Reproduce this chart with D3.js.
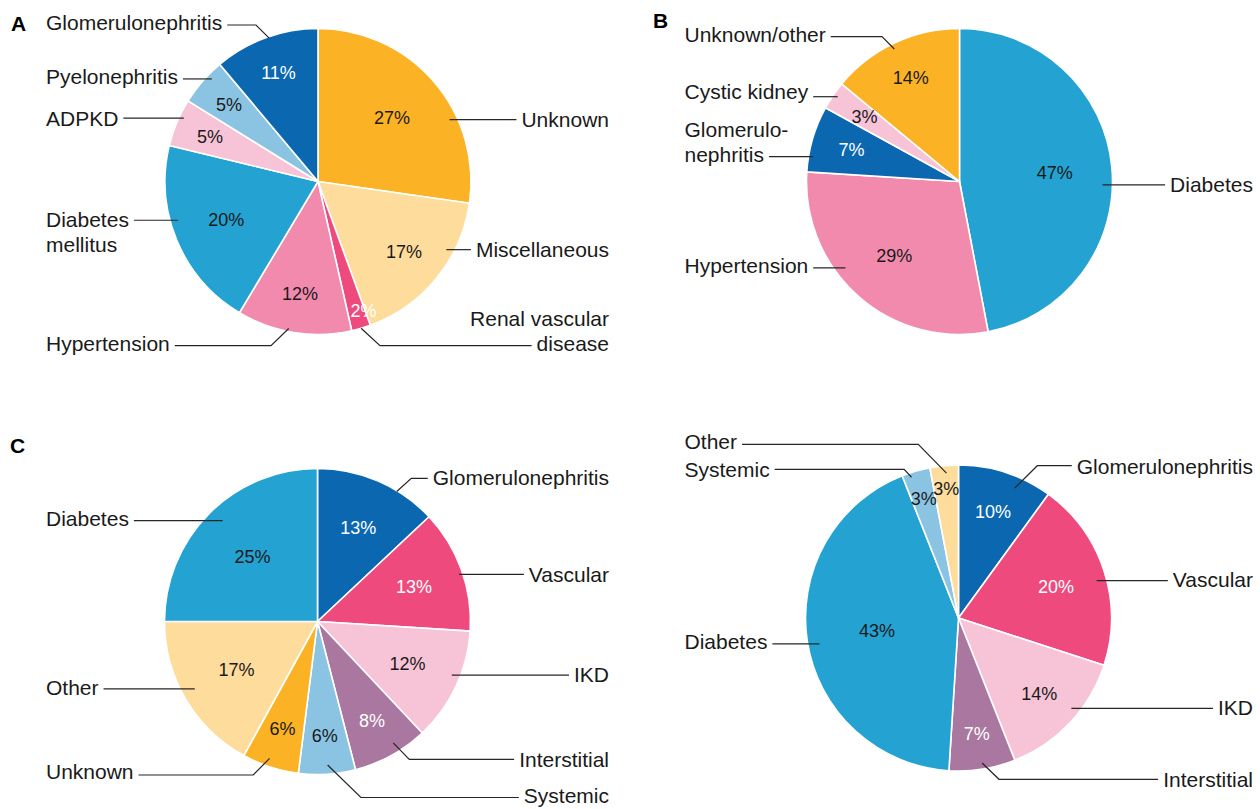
<!DOCTYPE html>
<html>
<head>
<meta charset="utf-8">
<script src="https://cdn.jsdelivr.net/npm/d3@7"></script>
<style>
  body { margin: 0; background: #fff; }
  svg { display: block; }
  text { font-family: "Liberation Sans", Arial, Helvetica, sans-serif; }
</style>
</head>
<body>
<svg id="chart" width="1260" height="809"></svg>
<script>
// ---- Causes of kidney failure, four cohorts (shares in %) ----
// "\n" marks where a label wraps onto a second line.
const catsA = ["Unknown", "Miscellaneous", "Renal vascular\ndisease", "Hypertension",
               "Diabetes\nmellitus", "ADPKD", "Pyelonephritis", "Glomerulonephritis"];
const valsA = [27, 17, 2, 12, 20, 5, 5, 11];

const catsB = ["Diabetes", "Hypertension", "Glomerulo-\nnephritis", "Cystic kidney", "Unknown/other"];
const valsB = [47, 29, 7, 3, 14];

const catsC = ["Glomerulonephritis", "Vascular", "IKD", "Interstitial", "Systemic",
               "Unknown", "Other", "Diabetes"];
const valsC = [13, 13, 12, 8, 6, 6, 17, 25];

const catsD = ["Glomerulonephritis", "Vascular", "IKD", "Interstitial", "Diabetes",
               "Systemic", "Other"];
const valsD = [10, 20, 14, 7, 43, 3, 3];

// ---- colours ----
const C = {
  navy:   "#0a67b0",
  blue:   "#24a2d1",
  sky:    "#8bc4e2",
  orange: "#fbb325",
  peach:  "#fddc9c",
  pink:   "#f18aad",
  rose:   "#ef4a7e",
  blush:  "#f7c3d6",
  mauve:  "#a9779f"
};
const INK = "#1a1a1a", WHITE = "#ffffff";

const fillA = [C.orange, C.peach, C.rose, C.pink, C.blue, C.blush, C.sky, C.navy];
const inkA  = [INK, INK, WHITE, INK, INK, INK, INK, WHITE];
const fillB = [C.blue, C.pink, C.navy, C.blush, C.orange];
const inkB  = [INK, INK, WHITE, INK, INK];
const fillC = [C.navy, C.rose, C.blush, C.mauve, C.sky, C.orange, C.peach, C.blue];
const inkC  = [WHITE, WHITE, INK, WHITE, INK, INK, INK, INK];
const fillD = [C.navy, C.rose, C.blush, C.mauve, C.blue, C.sky, C.peach];
const inkD  = [WHITE, WHITE, INK, WHITE, INK, INK, INK];

// ---- label layout ----
// t: where along the slice the leader starts (0..1), k: radius fraction of that start,
// side: label column, ex/ly: optional elbow (px from pie centre), at: wrapped line the
// leader attaches to, tdy: nudge of the text relative to the leader,
// pt: where along the slice the percentage sits (default: middle).
const layoutA = [
  {t: .66, k: .95,  side: "R"},
  {t: .32, k: .95,  side: "R"},
  {t: .50, k: 1.0,  side: "R", ex: 62, ly: 164.2, at: 1, tdy: -2.5, pt: .08},
  {t: .55, k: .98,  side: "L", ex: -47, ly: 164.2, tdy: -2.5},
  {t: .60, k: .95,  side: "L", at: 0, tdy: -1},
  {t: .64, k: .97,  side: "L"},
  {t: .67, k: .965, side: "L", tdy: -2},
  {t: .53, k: .99,  side: "L", ex: -62, ly: -156.5, tdy: -2}
];
const pctRA = [.64, .725, .895, .74, .65, .765, .77, .755];

const layoutB = [
  {t: .54, k: .935, side: "R"},
  {t: .61, k: .935, side: "L", tdy: -2},
  {t: .24, k: .97,  side: "L", at: 1, tdy: -1.5},
  {t: .56, k: .97,  side: "L", tdy: -5},
  {t: .48, k: .965, side: "L", ex: -77.5, ly: -144.8, tdy: -1.7}
];
const pctRB = [.625, .645, .735, .75, .75];

const layoutC = [
  {t: .67, k: .995, side: "R", ex: 93.8, ly: -143.2, tdy: -1},
  {t: .53, k: .975, side: "R"},
  {t: .42, k: .945, side: "R"},
  {t: .39, k: .935, side: "R", ex: 91.8, ly: 137.8},
  {t: .48, k: .94,  side: "R", ex: 43.4, ly: 176, tdy: -1.5},
  {t: .56, k: .948, side: "L", ex: -64.3, ly: 153.5, tdy: -3.3},
  {t: .53, k: .915, side: "L", tdy: -1.6},
  {t: .52, k: .905, side: "L", tdy: -2.4}
];
const pctRC = [.67, .67, .65, .74, .75, .74, .615, .60];

const layoutD = [
  {t: .65, k: .925, side: "R", ex: 78.8, ly: -152.3, tdy: 1},
  {t: .54, k: .935, side: "R", tdy: -1},
  {t: .41, k: .945, side: "R", tdy: -1},
  {t: .49, k: .96,  side: "R", ex: 40.5, ly: 161.3},
  {t: .49, k: .925, side: "L", tdy: -2.6},
  {t: .29, k: .97,  side: "L", ex: -54.3, ly: -148.7},
  {t: .56, k: .95,  side: "L", ex: -40.2, ly: -173.7, tdy: -2.6}
];
const pctRD = [.73, .67, .725, .765, .54, .815, .85];

const panels = [
  {letter: "A", letterXY: [11, 30.5], cats: catsA, vals: valsA, fill: fillA, ink: inkA,
   cx: 318, cy: 181.5, left: 46, right: 609, layout: layoutA, pctR: pctRA},
  {letter: "B", letterXY: [653, 27.5], cats: catsB, vals: valsB, fill: fillB, ink: inkB,
   cx: 959.5, cy: 181.5, left: 684.5, right: 1253, layout: layoutB, pctR: pctRB},
  {letter: "C", letterXY: [10, 453], cats: catsC, vals: valsC, fill: fillC, ink: inkC,
   cx: 317.5, cy: 621.5, left: 46, right: 609, layout: layoutC, pctR: pctRC},
  {letter: "", letterXY: [0, 0], cats: catsD, vals: valsD, fill: fillD, ink: inkD,
   cx: 958.5, cy: 618, left: 684.5, right: 1253, layout: layoutD, pctR: pctRD}
];

const R = 153;
const LABEL_SIZE = 21, PCT_SIZE = 18, LINE_GAP = 25, EDGE_GAP = 5;

const svg = d3.select("#chart");
const arc = d3.arc().innerRadius(0).outerRadius(R);
const pie = d3.pie().sort(null).value(d => d.v).startAngle(0).endAngle(2 * Math.PI);
const polar = (a, r) => [r * Math.sin(a), -r * Math.cos(a)];

panels.forEach(p => {
  const rows = p.cats.map((c, i) => ({cat: c, v: p.vals[i], i}));
  const arcs = pie(rows);
  const g = svg.append("g").attr("transform", `translate(${p.cx},${p.cy})`);

  // slices
  g.selectAll("path.slice").data(arcs).join("path")
    .attr("class", "slice")
    .attr("d", arc)
    .attr("fill", d => p.fill[d.data.i])
    .attr("stroke", "#fff")
    .attr("stroke-width", 1.6)
    .attr("stroke-linejoin", "round");

  // percentage labels
  g.selectAll("text.pct").data(arcs).join("text")
    .attr("class", "pct")
    .attr("transform", d => {
      const f = p.layout[d.data.i].pt ?? 0.5;
      const a = d.startAngle + f * (d.endAngle - d.startAngle);
      const [x, y] = polar(a, p.pctR[d.data.i] * R);
      return `translate(${x},${y})`;
    })
    .attr("text-anchor", "middle")
    .attr("dy", "0.35em")
    .attr("font-size", PCT_SIZE)
    .attr("fill", d => p.ink[d.data.i])
    .text(d => `${d.data.v}%`);

  // category labels with leader lines
  const lab = svg.append("g").attr("transform", `translate(${p.cx},${p.cy})`);
  arcs.forEach(d => {
    const L = p.layout[d.data.i];
    const a = d.startAngle + L.t * (d.endAngle - d.startAngle);
    const [sx, sy] = polar(a, L.k * R);
    const elbow = L.ex !== undefined;
    const hy = elbow ? L.ly : sy;
    const lines = d.data.cat.split("\n");
    const at = L.at || 0;
    const ty = hy + (L.tdy || 0);
    const isLeft = L.side === "L";
    const tx = (isLeft ? p.left : p.right) - p.cx;

    const t = lab.append("text")
      .attr("font-size", LABEL_SIZE)
      .attr("fill", INK)
      .attr("text-anchor", isLeft ? "start" : "end");
    const spans = lines.map((s, j) =>
      t.append("tspan")
        .attr("x", tx)
        .attr("y", ty + (j - at) * LINE_GAP)
        .attr("dy", "0.35em")
        .text(s));
    const w = spans[at].node().getComputedTextLength();
    const edge = isLeft ? tx + w + EDGE_GAP : tx - w - EDGE_GAP;

    const pts = elbow ? [[sx, sy], [L.ex, hy], [edge, hy]] : [[sx, sy], [edge, sy]];
    lab.append("path")
      .attr("d", d3.line()(pts))
      .attr("fill", "none")
      .attr("stroke", "#262626")
      .attr("stroke-width", 1.2);
  });

  // panel letter
  if (p.letter) {
    svg.append("text")
      .attr("x", p.letterXY[0]).attr("y", p.letterXY[1])
      .attr("font-size", 21).attr("font-weight", "bold")
      .attr("fill", "#000")
      .text(p.letter);
  }
});
</script>
</body>
</html>
